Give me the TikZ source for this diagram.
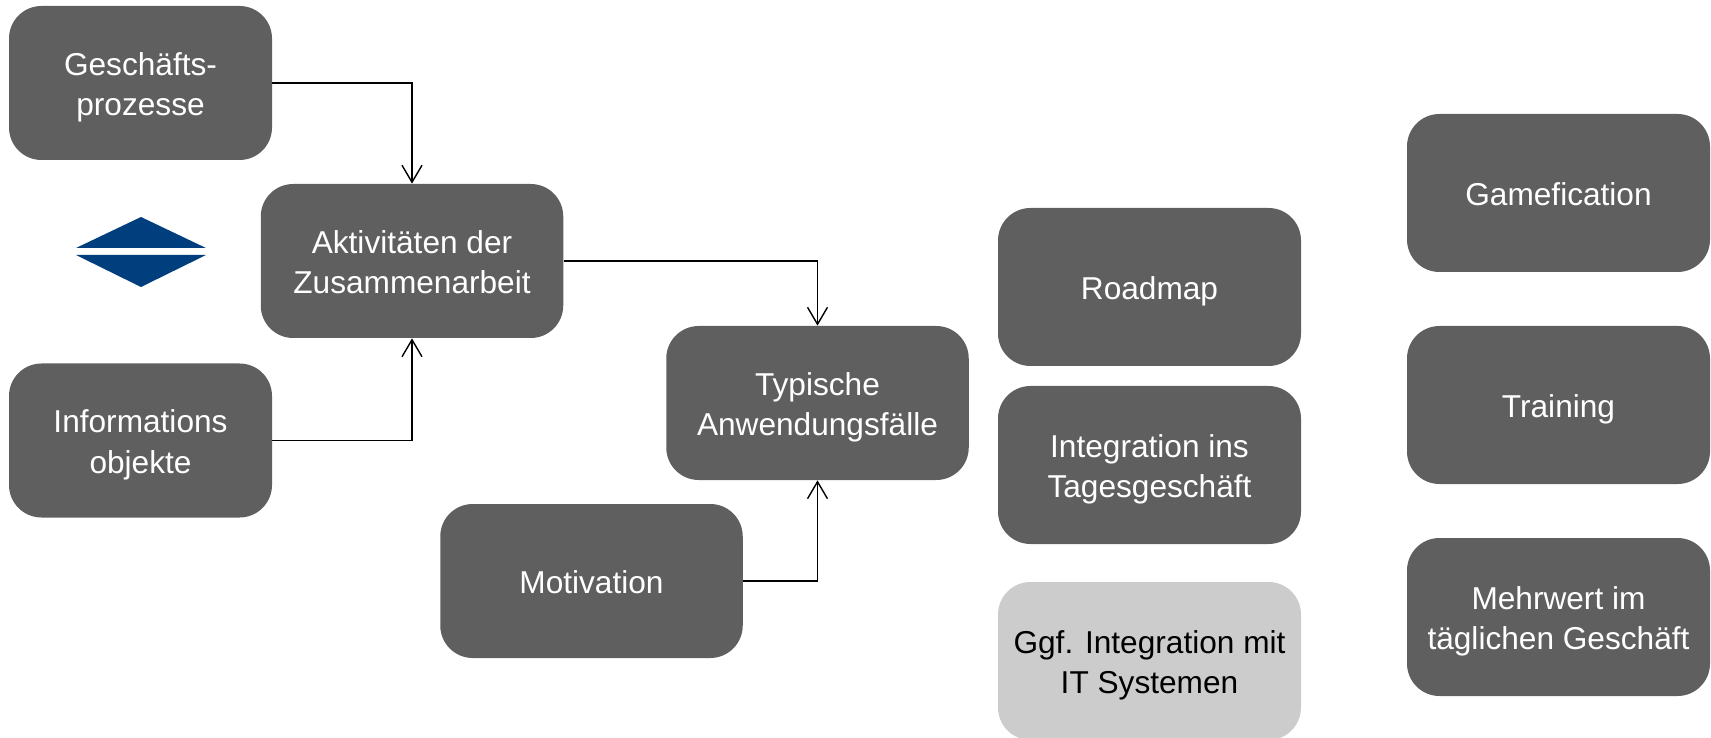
\documentclass[tikz,border=0pt]{standalone}
\usepackage{fontspec}
\setmainfont{Liberation Sans}
\usetikzlibrary{arrows.meta}
\definecolor{boxgrey}{HTML}{5F5F5F}
\definecolor{lightbox}{HTML}{CCCCCC}
\definecolor{navy}{RGB}{0,62,126}

\begin{document}
\begin{tikzpicture}[
  box/.style={fill=boxgrey, text=white, rounded corners=0.65cm, align=center,
    minimum width=6.06cm, minimum height=3.16cm, font=\fontsize{18}{23}\selectfont,
    execute at begin node={\rule{0pt}{18.5pt}}, execute at end node={\rule[-4pt]{0pt}{0pt}}},
  twolines/.style={execute at begin node={\rule{0pt}{41pt}}},
  smallbox/.style={box, twolines, minimum width=5.26cm, minimum height=3.08cm},
  midbox/.style={box, minimum width=6.05cm, minimum height=3.08cm},
  arr/.style={-{Straight Barb[length=3.4mm,width=4mm]}, line width=0.8pt}]
\useasboundingbox (0,0) rectangle (34.22,14.74);
\fill[navy] (1.52,9.78) -- (2.82,10.40) -- (4.12,9.78) -- cycle;
\fill[navy] (1.52,9.64) -- (2.82,9.00) -- (4.12,9.64) -- cycle;
\node[smallbox] (gp) at (2.81,13.08) {Geschäfts-\\prozesse};
\node[midbox, twolines] (akt) at (8.24,9.52) {Aktivitäten der\\Zusammenarbeit};
\node[smallbox] (info) at (2.81,5.93) {Informations\\objekte};
\node[midbox, twolines] (typ) at (16.35,6.68) {Typische\\Anwendungsfälle};
\node[midbox] (mot) at (11.83,3.12) {Motivation};
\node[box] (road) at (22.99,9.00) {Roadmap};
\node[box, twolines] (integ) at (22.99,5.44) {Integration ins\\Tagesgeschäft};
\node[box, twolines, fill=lightbox, text=black] (ggf) at (22.99,1.52) {Ggf. Integration mit\\IT Systemen};
\node[box] (game) at (31.17,10.88) {Gamefication};
\node[box] (train) at (31.17,6.64) {Training};
\node[box, twolines] (mehr) at (31.17,2.40) {Mehrwert im\\täglichen Geschäft};
\draw[arr] (gp) -| (akt);
\draw[arr] (info) -| (akt);
\draw[arr] (akt) -| (typ);
\draw[arr] (mot) -| (typ);
\end{tikzpicture}
\end{document}
